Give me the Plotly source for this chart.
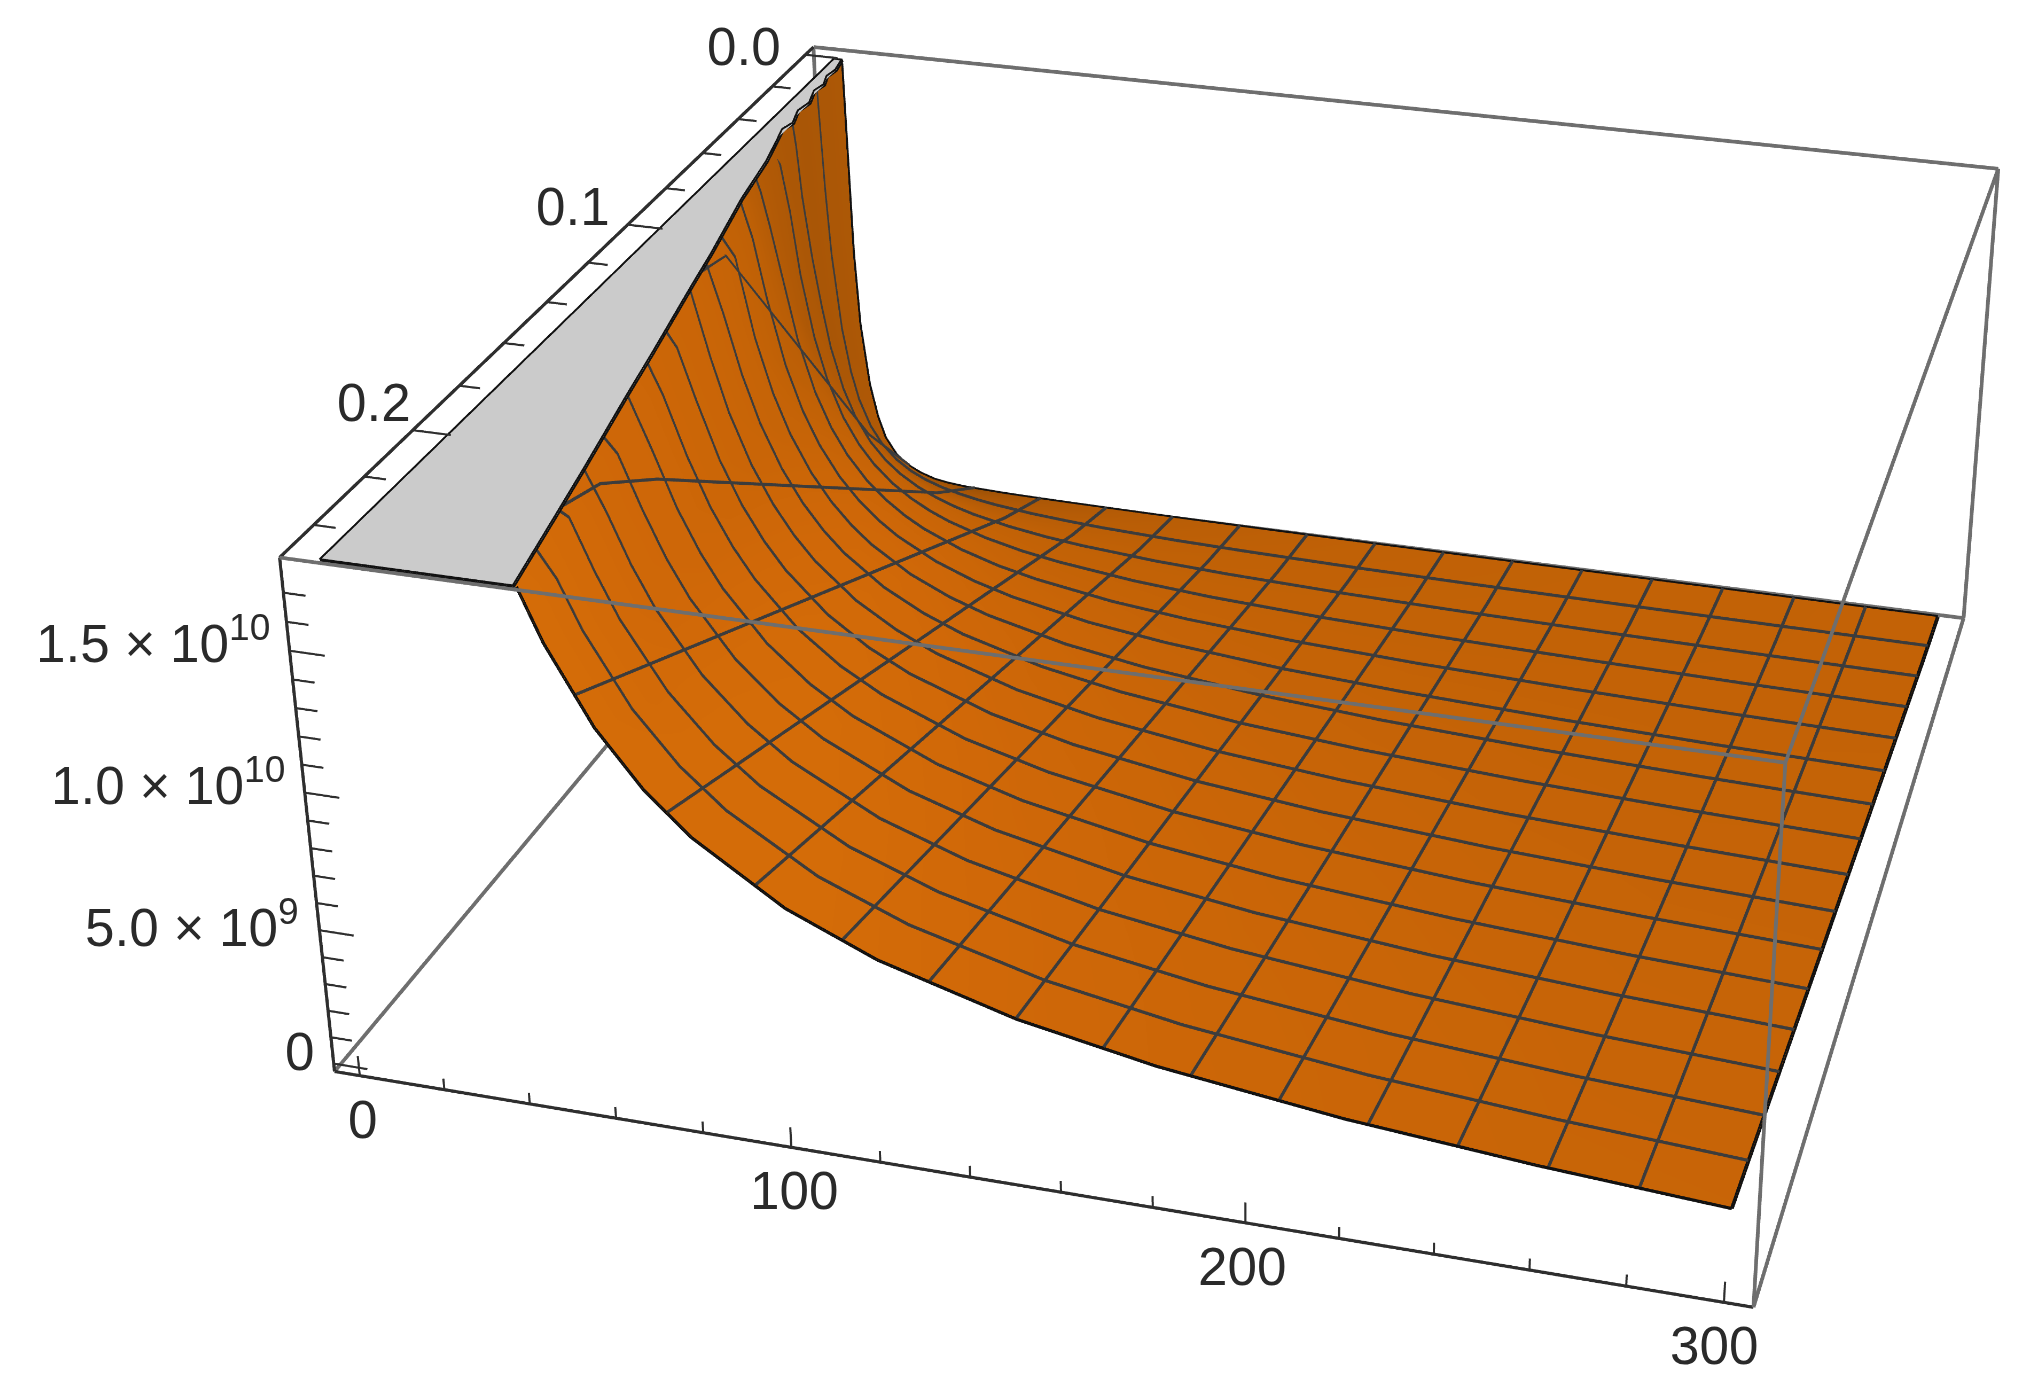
import numpy as np
import plotly.graph_objects as go

# value grid, z in units of 1e9
x_grid = [2, 3, 4, 5, 6, 8, 10, 12, 15, 18, 22, 26, 30, 35, 40, 45, 50, 60, 70, 80, 100, 120, 150, 180, 220, 260, 300]
y_grid = [0.0, 0.025, 0.05, 0.075, 0.1, 0.125, 0.15, 0.175, 0.2, 0.225, 0.25]
z_rows = [
    [18, 18, 18, 10, 7, 4.4, 3, 2.1, 1.4, 1, .7, .5, .4, .33, .3, .27, .25, .22, .2, .18, .15, .13, .11, .1, .09, .08, .07],
    [18, 18, 18, 16.2, 13.5, 10.13, 8.1, 6.75, 5.4, 4.5, 3.68, 3.12, 2.7, 2.31, 2.03, 1.8, 1.62, 1.35, 1.16, 1.01, .81, .68, .54, .45, .37, .31, .27],
    [18, 18, 18, 18, 18, 18, 16.2, 13.5, 10.8, 9, 7.36, 6.23, 5.4, 4.63, 4.05, 3.6, 3.24, 2.7, 2.31, 2.03, 1.62, 1.35, 1.08, .9, .74, .62, .54],
    [18, 18, 18, 18, 18, 18, 18, 18, 16.2, 13.5, 11.05, 9.35, 8.1, 6.94, 6.08, 5.4, 4.86, 4.05, 3.47, 3.04, 2.43, 2.03, 1.62, 1.35, 1.1, .93, .81],
    [18, 18, 18, 18, 18, 18, 18, 18, 18, 18, 14.73, 12.46, 10.8, 9.26, 8.1, 7.2, 6.48, 5.4, 4.63, 4.05, 3.24, 2.7, 2.16, 1.8, 1.47, 1.25, 1.08],
    [18, 18, 18, 18, 18, 18, 18, 18, 18, 18, 18, 15.58, 13.5, 11.57, 10.13, 9, 8.1, 6.75, 5.79, 5.06, 4.05, 3.38, 2.7, 2.25, 1.84, 1.56, 1.35],
    [18, 18, 18, 18, 18, 18, 18, 18, 18, 18, 18, 18, 16.2, 13.89, 12.15, 10.8, 9.72, 8.1, 6.94, 6.08, 4.86, 4.05, 3.24, 2.7, 2.21, 1.87, 1.62],
    [18, 18, 18, 18, 18, 18, 18, 18, 18, 18, 18, 18, 18, 16.2, 14.18, 12.6, 11.34, 9.45, 8.1, 7.09, 5.67, 4.73, 3.78, 3.15, 2.58, 2.18, 1.89],
    [18, 18, 18, 18, 18, 18, 18, 18, 18, 18, 18, 18, 18, 18, 16.2, 14.4, 12.96, 10.8, 9.26, 8.1, 6.48, 5.4, 4.32, 3.6, 2.95, 2.49, 2.16],
    [18, 18, 18, 18, 18, 18, 18, 18, 18, 18, 18, 18, 18, 18, 18, 16.2, 14.58, 12.15, 10.41, 9.11, 7.29, 6.08, 4.86, 4.05, 3.31, 2.8, 2.43],
    [18, 18, 18, 18, 18, 18, 18, 18, 18, 18, 18, 18, 18, 18, 18, 18, 16.2, 13.5, 11.57, 10.13, 8.1, 6.75, 5.4, 4.5, 3.68, 3.12, 2.7],
]

# clipped plateau outline: x, y along the jagged edge
plate_x = [2, 45, 40.5, 37, 31.5, 28, 22.5, 19.5, 14, 11, 8.4, 7.0, 8.0, 6.2, 7.0, 5.2, 6.0, 4.6, 5.2, 4.2, 2]
plate_y = [0.2512, 0.2512, 0.225, 0.205, 0.175, 0.155, 0.125, 0.108, 0.08, 0.06, 0.048, 0.042, 0.038, 0.031, 0.026, 0.019, 0.015, 0.010, 0.006, 0.0, 0.0]
z_top = 18.12

x_range = [-6, 306]
y_range = [-0.005, 0.253]
z_range = [-0.3, 18.2]

x_mesh = [18.75, 37.5, 56.25, 75, 93.75, 112.5, 131.25, 150, 168.75, 187.5, 206.25, 225, 243.75, 262.5, 281.25]
y_mesh = [0.015625, 0.03125, 0.046875, 0.0625, 0.078125, 0.09375, 0.109375, 0.125, 0.140625, 0.15625, 0.171875,
          0.1875, 0.203125, 0.21875, 0.234375]

x_major = [0, 100, 200, 300]
x_minor = [20, 40, 60, 80, 120, 140, 160, 180, 220, 240, 260, 280]
y_major = [0.0, 0.1, 0.2]
y_minor = [0.02, 0.04, 0.06, 0.08, 0.12, 0.14, 0.16, 0.18, 0.22, 0.24]
z_major = [0, 5, 10, 15]
z_minor = [1, 2, 3, 4, 6, 7, 8, 9, 11, 12, 13, 14, 16, 17]
z_labels = ["0", "5.0 × 10<sup>9</sup>", "1.0 × 10<sup>10</sup>", "1.5 × 10<sup>10</sup>"]

GRAY_EDGE = "#6e6e6e"
DARK = "#2e2e2e"
MESH = "#3c3c3c"

# plotly's field of view is fixed, so a canvas bigger than the window gives the flatter perspective
CANVAS_W, CANVAS_H = 2525, 3749
CANVAS_LEFT, CANVAS_TOP = -2, -1402
ASPECT_Y, ASPECT_Z = 0.9836, 0.4025

# shading taken from the slope of the table in box units
table = np.array(z_rows, dtype=float)
dz_dy = np.gradient(table, y_grid, axis=0) * (y_range[1] - y_range[0]) / ASPECT_Y * ASPECT_Z / (z_range[1] - z_range[0])
dz_dx = np.gradient(table, x_grid, axis=1) * (x_range[1] - x_range[0]) * ASPECT_Z / (z_range[1] - z_range[0])
norm = np.sqrt(dz_dx ** 2 + dz_dy ** 2 + 1)
shade = (0.6 * -dz_dx + 0.35 * -dz_dy + 0.72) / norm
# the flat clipped part would give false values next to the plateau
for i, row in enumerate(table):
    clipped = int(np.sum(row >= 18))
    shade[i, :clipped + 2] = shade[i, clipped + 2]

fig = go.Figure()

fig.add_trace(go.Surface(
    x=x_grid, y=y_grid, z=z_rows, surfacecolor=shade, cmin=0.55, cmax=0.85,
    colorscale=[[0, "#9a5006"], [0.3, "#b25a06"], [0.45, "#c06106"], [0.65, "#c96507"], [0.85, "#d06808"], [1, "#d46c08"]],
    showscale=False, hoverinfo="skip",
    lighting=dict(ambient=1, diffuse=0, specular=0, roughness=1, fresnel=0),
))

# gray clipped plateau, fan from the first vertex
n = len(plate_x)
fig.add_trace(go.Mesh3d(
    x=plate_x, y=plate_y, z=[z_top] * n,
    i=[0] * (n - 2), j=list(range(1, n - 1)), k=list(range(2, n)),
    color="#cbcbcb", flatshading=True, hoverinfo="skip",
    lighting=dict(ambient=1, diffuse=0, specular=0, fresnel=0),
))


def line(xs, ys, zs, color, width):
    fig.add_trace(go.Scatter3d(x=xs, y=ys, z=zs, mode="lines", line=dict(color=color, width=width),
                               showlegend=False, hoverinfo="skip"))


# mesh lines follow the table
for xm in x_mesh:
    col = [float(np.interp(xm, x_grid, row)) + 0.05 for row in table]
    line([xm] * len(y_grid), y_grid, col, MESH, 6)
for ym in y_mesh:
    row = [float(np.interp(ym, y_grid, table[:, j])) + 0.05 for j in range(len(x_grid))]
    line(x_grid, [ym] * len(x_grid), row, MESH, 6)

# outlines, the front and back rows start where they leave the plateau
front_from = x_grid.index(45)
back_from = x_grid.index(4)
line(plate_x + [plate_x[0]], plate_y + [plate_y[0]], [z_top] * (n + 1), "#111111", 7)
line(x_grid[front_from:], [y_grid[-1]] * (len(x_grid) - front_from), z_rows[-1][front_from:], "#111111", 6)
line(x_grid[back_from:], [y_grid[0]] * (len(x_grid) - back_from), z_rows[0][back_from:], "#111111", 7)
line([300] * len(y_grid), y_grid, [row[-1] for row in z_rows], "#111111", 7)

# box
x0, x1 = x_range
y0, y1 = y_range
z0, z1 = z_range
for xs, ys, zs in [
    ([x0, x1], [y1, y1], [z1, z1]), ([x1, x1], [y1, y0], [z1, z1]), ([x1, x0], [y0, y0], [z1, z1]),
    ([x1, x1], [y1, y1], [z0, z1]), ([x1, x1], [y0, y0], [z0, z1]), ([x0, x0], [y0, y0], [z0, z1]),
    ([x1, x1], [y1, y0], [z0, z0]), ([x1, x0], [y0, y0], [z0, z0]), ([x0, x0], [y1, y0], [z0, z0]),
]:
    line(xs, ys, zs, GRAY_EDGE, 7)
line([x0, x1], [y1, y1], [z0, z0], DARK, 6)
line([x0, x0], [y1, y1], [z0, z1], DARK, 6)
line([x0, x0], [y1, y0], [z1, z1], DARK, 6)

# ticks
for vals, length in [(x_major, 0.75), (x_minor, 0.42)]:
    for v in vals:
        line([v, v], [y1, y1], [z0, z0 + length], DARK, 4)
for vals, length in [(z_major, 8), (z_minor, 5)]:
    for v in vals:
        line([x0, x0 + length], [y1, y1], [v, v], DARK, 4)
for vals, length in [(y_major, 9), (y_minor, 5)]:
    for v in vals:
        line([x0, x0 + length], [v, v], [z1, z1], DARK, 4)

font = dict(family="Liberation Sans", size=53, color="#2a2a2a")
annotations = []
for v, xs in zip(x_major, [3, 3, -3, -10]):
    annotations.append(dict(x=v, y=y1, z=z0, text=str(v), showarrow=False, font=font, xanchor="center",
                            yanchor="top", xshift=xs, yshift=-12))
for v, t, ys in zip(z_major, z_labels, [12, 7, 11, 11]):
    annotations.append(dict(x=x0, y=y1, z=v, text=t, showarrow=False, font=font, xanchor="right",
                            yanchor="middle", xshift=-18, yshift=ys))
for v, xs, ys in zip(y_major, [-22, -16, 0], [8, 18, 28]):
    annotations.append(dict(x=x0, y=v, z=z1, text=f"{v:.1f}", showarrow=False, font=font, xanchor="right",
                            yanchor="middle", xshift=xs, yshift=ys))

# the scene clips at its range, so it has to reach a little past the box lines
axis = dict(visible=False, showbackground=False, showspikes=False)
fig.update_layout(
    width=CANVAS_W, height=CANVAS_H, margin=dict(l=0, r=0, t=0, b=0), paper_bgcolor="white", showlegend=False,
    scene=dict(
        xaxis=dict(axis, range=[x0 - 0.3, x1 + 0.3]),
        yaxis=dict(axis, range=[y1 + 0.00025, y0 - 0.00025]),
        zaxis=dict(axis, range=[z0 - 0.02, z1 + 0.02]),
        aspectmode="manual",
        aspectratio=dict(x=1.0, y=ASPECT_Y, z=ASPECT_Z),
        camera=dict(eye=dict(x=0.8395, y=-2.8614, z=1.5562), center=dict(x=0.0083, y=0.0829, z=0.0604),
                    up=dict(x=0, y=0, z=1)),
        annotations=annotations,
    ),
)

shift = (
    "var d=document.querySelector('.plotly-graph-div');"
    f"d.style.position='absolute';d.style.left='{CANVAS_LEFT}px';d.style.top='{CANVAS_TOP}px';"
    "document.body.style.margin='0';document.documentElement.style.overflow='hidden';"
)
fig.write_html("out.html", post_script=shift, config=dict(displayModeBar=False))
